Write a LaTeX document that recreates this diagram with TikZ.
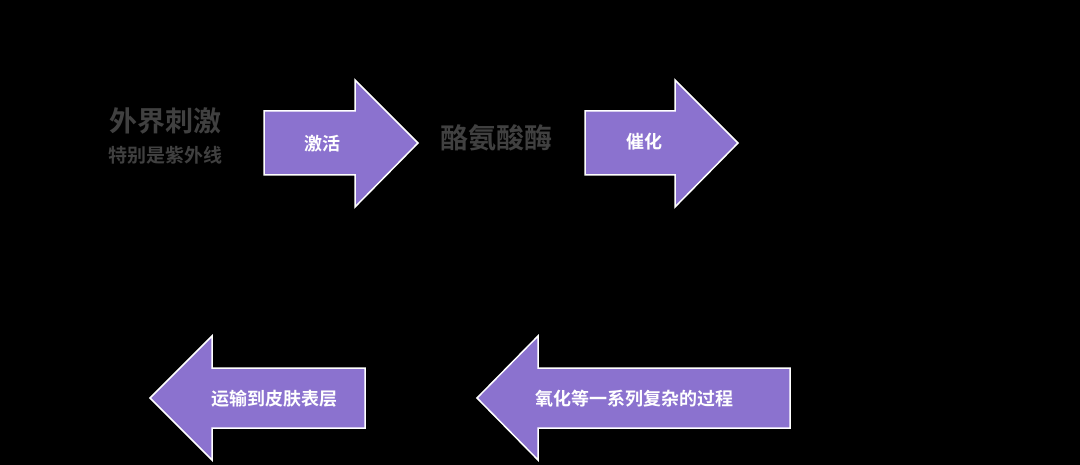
\documentclass[tikz,border=0pt]{standalone}
\usepackage{fontspec}
\newfontfamily\cjk{Noto Sans CJK SC Bold}
\definecolor{arrowfill}{HTML}{8B72CF}
\definecolor{txtgray}{HTML}{404040}
\begin{document}
\begin{tikzpicture}[x=1pt,y=-1pt,
  arr/.style={fill=arrowfill,draw=white,line width=1.5pt,line join=miter},
  lab/.style={text=white,font=\cjk\fontsize{18}{20}\selectfont},
  big/.style={text=txtgray,font=\cjk\fontsize{28}{30}\selectfont},
  small/.style={text=txtgray,font=\cjk\fontsize{19}{21}\selectfont}]
\fill[black] (0,0) rectangle (1080,465);
\useasboundingbox (0,0) rectangle (1080,465);
\draw[arr] (264,111) -- (355,111) -- (355,80) -- (418,143) -- (355,207) -- (355,175) -- (264,175) -- cycle;
\draw[arr] (585,111) -- (675,111) -- (675,80) -- (738,143) -- (675,207) -- (675,175) -- (585,175) -- cycle;
\draw[arr] (365,368) -- (212,368) -- (212,336) -- (150,398) -- (212,460) -- (212,428) -- (365,428) -- cycle;
\draw[arr] (790,368) -- (538,368) -- (538,336) -- (477,398) -- (538,460) -- (538,428) -- (790,428) -- cycle;
\node[big] (wj) at (165,121) {外界刺激};
\node[small] (tb) at (165,155) {特别是紫外线};
\node[big] (lj) at (496,138) {酪氨酸酶};
\node[lab] (jh) at (322,144) {激活};
\node[lab] (ch) at (644,142) {催化};
\node[lab] (ys) at (274,399) {运输到皮肤表层};
\node[lab] (yh) at (634,399) {氧化等一系列复杂的过程};
\end{tikzpicture}
\end{document}
